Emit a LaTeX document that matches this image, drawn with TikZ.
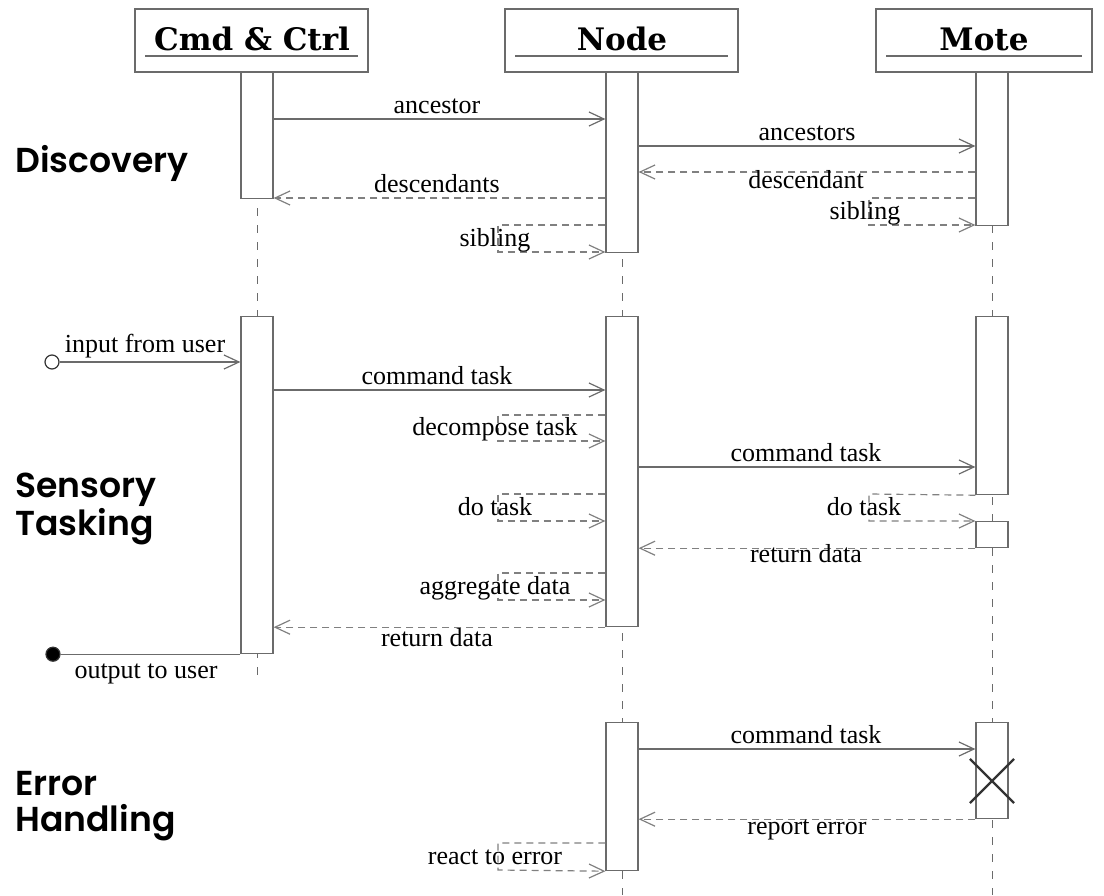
\documentclass[tikz,border=0pt]{standalone}
\usepackage{fontspec}
\setmainfont{Liberation Serif}
\newfontfamily\headfont{DejaVu Serif}
\IfFontExistsTF{Poppins SemiBold}
  {\newfontfamily\secfont{Poppins SemiBold}\newcommand\secweight{}}
  {\newfontfamily\secfont{Poppins}\newcommand\secweight{\bfseries}}
\usetikzlibrary{arrows.meta,shapes.misc}
\definecolor{linecol}{gray}{0.42}
\definecolor{dashcol}{gray}{0.5}
\begin{document}
\begin{tikzpicture}[x=0.5pt,y=-0.5pt,
  lnk/.style={draw=linecol, line width=0.6pt},
  msg/.style={lnk, -{Straight Barb[length=7.5pt,width=7pt]}},
  ret/.style={msg, draw=dashcol, dash pattern=on 3.5pt off 2.5pt},
  life/.style={draw=linecol, line width=0.5pt, dash pattern=on 4pt off 4.5pt},
  actbox/.style={draw=linecol, line width=0.6pt, fill=white, minimum width=16pt, inner sep=0pt, anchor=north},
  lbl/.style={font=\fontsize{13}{15}\selectfont, inner sep=0pt, anchor=base},
  headbox/.style={draw=linecol, line width=0.6pt, minimum height=31.5pt, inner sep=0pt},
  headtxt/.style={font=\headfont\bfseries\fontsize{15.5}{17}\selectfont, inner sep=0pt, anchor=base},
  uline/.style={draw=linecol, line width=0.6pt},
  sect/.style={font=\secfont\secweight\fontsize{17.3}{20}\selectfont, inner sep=0pt, anchor=base west},
  endpt/.style={circle, draw=black!80, line width=0.6pt, minimum size=7pt, inner sep=0pt}
]
\useasboundingbox (0,0) rectangle (1104,895);

% headers
\node[headbox, minimum width=116.5pt] (hc) at (251.5,40.5) {};
\node[headbox, minimum width=116.5pt] (hn) at (621.5,40.5) {};
\node[headbox, minimum width=108pt] (hm) at (984,40.5) {};
\node[headtxt] (tc) at (252,50) {Cmd \& Ctrl};
\node[headtxt] (tn) at (622,50) {Node};
\node[headtxt] (tm) at (984,50) {Mote};
\draw[uline] ([xshift=5.5pt]hc.west |- 0,56) -- ([xshift=-5.5pt]hc.east |- 0,56);
\draw[uline] ([xshift=5.5pt]hn.west |- 0,56) -- ([xshift=-5.5pt]hn.east |- 0,56);
\draw[uline] ([xshift=5.5pt]hm.west |- 0,56) -- ([xshift=-5.5pt]hm.east |- 0,56);

% lifelines
\coordinate (lc) at (257,678);
\coordinate (ln) at (622,895);
\coordinate (lm) at (992,895);
\draw[life] (257,72) -- (lc);
\draw[life] (622,72) -- (ln);
\draw[life] (992,72) -- (lm);

% activation boxes
\node[actbox, minimum height=63pt] (ca1) at (257,72) {};
\node[actbox, minimum height=168.5pt] (ca2) at (257,316) {};
\node[actbox, minimum height=90pt] (na1) at (622,72) {};
\node[actbox, minimum height=155pt] (na2) at (622,316) {};
\node[actbox, minimum height=74pt] (na3) at (622,722) {};
\node[actbox, minimum height=76.5pt] (ma1) at (992,72) {};
\node[actbox, minimum height=89pt] (ma2) at (992,316) {};
\node[actbox, minimum height=13pt] (ma3) at (992,521) {};
\node[actbox, minimum height=48pt] (ma4) at (992,722) {};

% section titles
\node[sect] (s1) at (15,172) {Discovery};
\node[sect] (s2) at (15,497) {Sensory};
\node[sect] (s3) at (15,535) {Tasking};
\node[sect] (s4) at (15,795) {Error};
\node[sect] (s5) at (15,831) {Handling};

% ---- Discovery
\draw[msg] (ca1.east |- 0,119) -- (na1.west |- 0,119);
\node[lbl] at (437,113) {ancestor};
\draw[msg] (na1.east |- 0,146) -- (ma1.west |- 0,146);
\node[lbl] at (807,140) {ancestors};
\draw[ret] (ma1.west |- 0,172) -- (na1.east |- 0,172);
\node[lbl] at (806,188) {descendant};
\draw[ret] (na1.west |- 0,198) -- (ca1.east |- 0,198);
\node[lbl] at (437,192) {descendants};
\draw[ret] (ma1.west |- 0,198) -- (869,198) -- (869,225) -- (ma1.west |- 0,225);
\node[lbl] at (865,219) {sibling};
\draw[ret] (na1.west |- 0,225) -- (498,225) -- (498,252) -- (na1.west |- 0,252);
\node[lbl] at (495,246) {sibling};

% ---- Sensory Tasking
\node[endpt] (inp) at (52,362) {};
\draw[msg] (inp) -- (ca2.west |- inp);
\node[lbl] at (145,352) {input from user};
\draw[msg] (ca2.east |- 0,390) -- (na2.west |- 0,390);
\node[lbl] at (437,384) {command task};
\draw[ret] (na2.west |- 0,415) -- (498,415) -- (498,441) -- (na2.west |- 0,441);
\node[lbl] at (495,435) {decompose task};
\draw[msg] (na2.east |- 0,467) -- (ma2.west |- 0,467);
\node[lbl] at (806,461) {command task};
\draw[ret] (na2.west |- 0,494) -- (498,494) -- (498,521) -- (na2.west |- 0,521);
\node[lbl] at (495,515) {do task};
\draw[ret] (ma2.south west) -- (869,494) -- (869,521) -- (ma3.north west);
\node[lbl] at (864,515) {do task};
\draw[ret] (ma3.south west) -- (na2.east |- ma3.south west);
\node[lbl] at (806,562) {return data};
\draw[ret] (na2.west |- 0,573) -- (498,573) -- (498,600) -- (na2.west |- 0,600);
\node[lbl] at (495,594) {aggregate data};
\draw[ret] (na2.south west) -- (ca2.east |- na2.south west);
\node[lbl] at (437,646) {return data};
\node[endpt, fill=black] (outp) at (ca2.south west -| 53,0) {};
\draw[lnk] (ca2.south west) -- (outp);
\node[lbl] at (146,678) {output to user};

% ---- Error Handling
\draw[msg] (na3.east |- 0,749) -- (ma4.west |- 0,749);
\node[lbl] at (806,743) {command task};
\node[cross out, draw=black!80, line width=1.1pt, minimum size=21pt, inner sep=0pt] (xx) at (992,781) {};
\draw[ret] (ma4.south west) -- (na3.east |- ma4.south west);
\node[lbl] at (807,834) {report error};
\draw[ret] (na3.west |- 0,843) -- (498,843) -- (498,870) -- (na3.south west);
\node[lbl] at (495,864) {react to error};
\end{tikzpicture}
\end{document}
